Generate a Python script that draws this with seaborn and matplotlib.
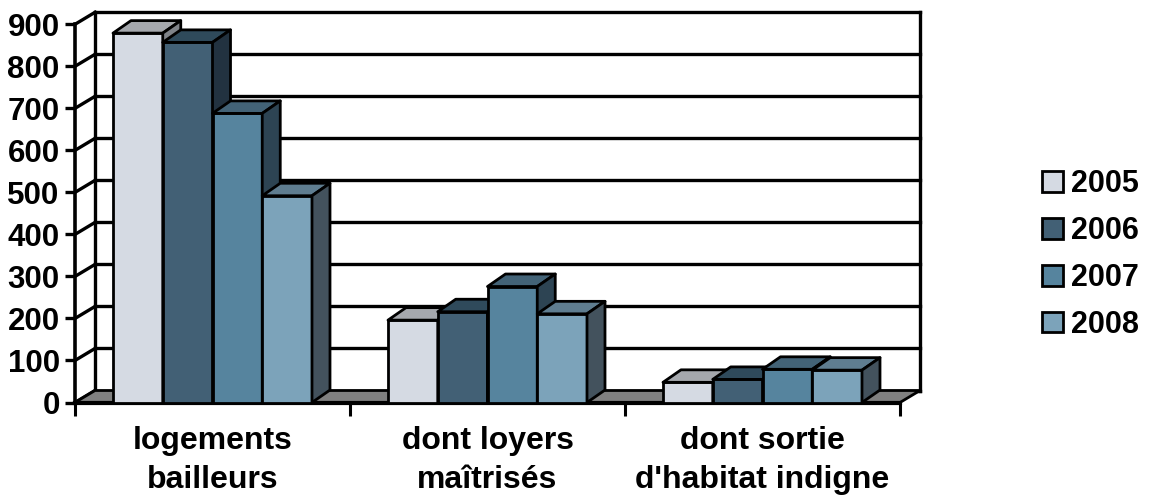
import matplotlib
matplotlib.use("Agg")
import matplotlib.pyplot as plt
from matplotlib.patches import Polygon, Patch
import numpy as np
import pandas as pd
import seaborn as sns

# ---- data ----
categories = ["logements\nbailleurs", "dont loyers\nmaîtrisés", "dont sortie\nd'habitat indigne"]
years = ["2005", "2006", "2007", "2008"]
val_2005 = [879, 196, 48]
val_2006 = [857, 216, 55]
val_2007 = [688, 276, 79]
val_2008 = [492, 211, 77]
y_ticks = list(range(0, 1000, 100))

# face colours per series: front / top / side
front_colors = ["#D5DAE3", "#426075", "#56849E", "#7CA3BA"]
top_colors = ["#A5A8AD", "#2F4A5B", "#436377", "#5F7D90"]
side_colors = ["#7F8389", "#223240", "#2D4453", "#43525D"]

df = pd.DataFrame({
    "categorie": categories * 4,
    "annee": [y for y in years for _ in categories],
    "valeur": val_2005 + val_2006 + val_2007 + val_2008,
})

plt.rcParams["font.family"] = ["Liberation Sans", "DejaVu Sans"]
plt.rcParams["font.weight"] = "bold"

W, H = 1149, 497
fig = plt.figure(figsize=(W / 100, H / 100), dpi=100)
ax_left, ax_right, ax_zero, ax_top = 75, 900, 402.5, 24.3
ax = fig.add_axes([ax_left / W, (H - ax_zero) / H,
                   (ax_right - ax_left) / W, (ax_zero - ax_top) / H])

ymax = 900
sns.barplot(data=df, x="categorie", y="valeur", hue="annee", order=categories,
            hue_order=years, palette=front_colors, saturation=1, width=0.7236,
            edgecolor="black", linewidth=2, errorbar=None, legend=False, ax=ax)
ax.set_xlim(-0.5, 2.5)
ax.set_ylim(0, ymax)

# pixel -> data conversions for the depth offsets
ppx = (ax_right - ax_left) / 3.0
ppy = (ax_zero - ax_top) / ymax
wdx, wdy = 20 / ppx, 12 / ppy      # walls
bdx, bdy = 18 / ppx, 12.5 / ppy    # bars

line_kw = dict(color="black", lw=2.4, clip_on=False, solid_capstyle="projecting")

# back wall gridlines, left side-wall diagonals and wall edges
for v in y_ticks:
    ax.plot([-0.5 + wdx, 2.5 + wdx], [v + wdy, v + wdy], zorder=0.5, **line_kw)
    ax.plot([-0.5, -0.5 + wdx], [v, v + wdy], zorder=0.5, **line_kw)
ax.plot([-0.5 + wdx] * 2, [wdy, ymax + wdy], zorder=0.5, **line_kw)
ax.plot([2.5 + wdx] * 2, [wdy, ymax + wdy], zorder=0.5, **line_kw)

# floor
floor = Polygon([(-0.5, 0), (2.5, 0), (2.5 + wdx, wdy), (-0.5 + wdx, wdy)],
                closed=True, facecolor="#808080", edgecolor="black", lw=2,
                zorder=1, clip_on=False)
ax.add_patch(floor)

# extruded top and side faces of the columns
for hi, cont in enumerate(ax.containers):
    for patch in cont:
        x0, w, h = patch.get_x(), patch.get_width(), patch.get_height()
        base_z = 3 + 3 * hi
        patch.set_zorder(base_z)
        top = Polygon([(x0, h), (x0 + w, h), (x0 + w + bdx, h + bdy), (x0 + bdx, h + bdy)],
                      closed=True, facecolor=top_colors[hi], edgecolor="black",
                      lw=2, zorder=base_z + 1, clip_on=False, joinstyle="round")
        side = Polygon([(x0 + w, 0), (x0 + w + bdx, bdy), (x0 + w + bdx, h + bdy), (x0 + w, h)],
                       closed=True, facecolor=side_colors[hi], edgecolor="black",
                       lw=2, zorder=base_z + 1, clip_on=False, joinstyle="round")
        ax.add_patch(top)
        ax.add_patch(side)

# axes styling
for s in ["top", "right"]:
    ax.spines[s].set_visible(False)
ax.spines["left"].set_linewidth(2.6)
ax.spines["bottom"].set_linewidth(3)
ax.spines["bottom"].set_zorder(2)

ax.set_yticks(y_ticks)
ax.set_yticklabels([str(v) for v in y_ticks], fontsize=22.5, fontweight="bold")
ax.tick_params(axis="y", direction="out", length=7, width=2.4, pad=4)

ax.set_xticks([0, 1, 2])
ax.set_xticklabels(categories, fontsize=23, fontweight="bold", linespacing=1.38)
ax.set_xticks([-0.5, 0.5, 1.5, 2.5], minor=True)
ax.tick_params(axis="x", which="major", length=0, pad=17)
ax.tick_params(axis="x", which="minor", direction="out", length=9, width=2.2)
ax.set_xlabel("")
ax.set_ylabel("")

handles = [Patch(facecolor=c, edgecolor="black", linewidth=2) for c in front_colors]
fig.legend(handles, years, loc="center left",
           bbox_to_anchor=(1042 / W, (H - 254.5) / H), bbox_transform=fig.transFigure,
           frameon=False, prop={"size": 22, "weight": "bold"},
           handlelength=0.68, handleheight=0.68, handletextpad=0.28,
           labelspacing=0.55, borderpad=0, borderaxespad=0)

fig.savefig("out.png", dpi=100)
